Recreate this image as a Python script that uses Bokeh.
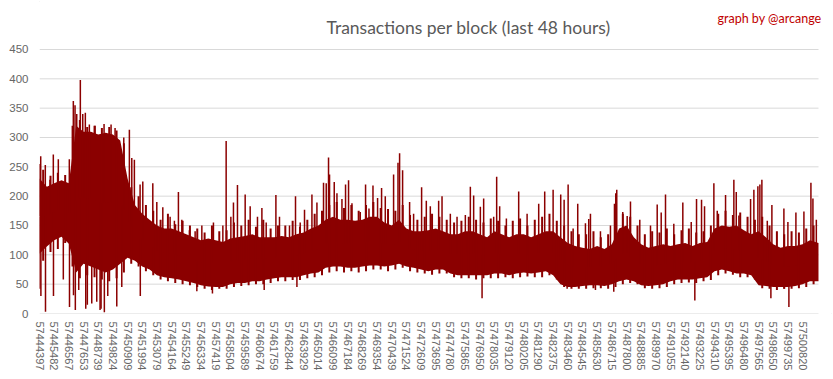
import numpy as np
from bokeh.plotting import figure
from bokeh.models import Range1d, FixedTicker, NumeralTickFormatter, Label
from bokeh.embed import file_html
from bokeh.resources import INLINE

# ---------------- data ----------------
first_block = 57444397
last_block = 57501996

tick_blocks = [57444397, 57445482, 57446567, 57447653, 57448739, 57449824, 57450909,
               57451994, 57453079, 57454164, 57455249, 57456334, 57457419, 57458504,
               57459589, 57460674, 57461759, 57462844, 57463929, 57465014, 57466099,
               57467184, 57468269, 57469354, 57470439, 57471524, 57472609, 57473695,
               57474780, 57475865, 57476950, 57478035, 57479120, 57480205, 57481290,
               57482375, 57483460, 57484545, 57485630, 57486715, 57487800, 57488885,
               57489970, 57491055, 57492140, 57493225, 57494310, 57495395, 57496480,
               57497565, 57498650, 57499735, 57500820]

y_ticks = [0, 50, 100, 150, 200, 250, 300, 350, 400, 450]

# dense band of transactions per block (upper / lower envelope), sampled every half label step
core_blocks = [t + h for t in tick_blocks for h in (0, 542)] + [last_block]
core_top = [230, 216, 222, 227, 222, 320, 310, 310, 305, 308, 305, 295, 230, 185, 170, 160,
            150, 145, 145, 140, 135, 130,
            125, 128, 125, 122, 128, 130, 132, 135, 130, 130, 130, 132, 130, 135, 138, 145,
            150, 160, 165, 160, 160, 158, 160, 165, 165, 155,
            150, 160, 145, 140, 140, 142, 145, 140, 135, 135, 140, 140, 135, 130, 140, 135,
            130, 135, 135, 130, 135, 140, 140, 130, 120, 115,
            112, 110, 115, 110, 118, 145, 150, 130, 118, 112, 115, 118, 115, 118, 120, 115,
            120, 122, 145, 150, 148, 150, 142, 135, 140, 130, 118, 112, 115, 115, 118, 125, 120]
core_bottom = [102, 114, 125, 131, 119, 70, 85, 80, 75, 70, 75, 85, 95, 90, 80, 75,
               65, 62, 60, 58, 55, 52,
               48, 46, 45, 45, 50, 52, 52, 55, 55, 58, 60, 62, 62, 62, 65, 68,
               70, 78, 80, 80, 78, 78, 80, 82, 82, 80,
               82, 85, 80, 78, 75, 72, 75, 75, 68, 65, 65, 65, 65, 65, 68, 68,
               65, 68, 70, 68, 70, 72, 65, 50, 45, 45,
               47, 48, 48, 47, 50, 55, 58, 55, 48, 47, 48, 50, 55, 58, 58, 58,
               60, 62, 72, 75, 72, 68, 68, 65, 48, 47, 45, 45, 45, 47, 50, 55, 55]

# ragged edge of the band, between the samples above
mid_blocks = [t + h for t in tick_blocks for h in (271, 813)]
mid_high = [245, 235, 240, 236, 250, 330, 318, 320, 316, 318, 312, 290, 215, 200, 185, 175,
            160, 170, 152, 158, 150, 145,
            138, 150, 140, 142, 155, 150, 160, 148, 160, 145, 150, 150, 158, 148, 160, 170,
            175, 185, 190, 180, 185, 175, 185, 190, 180, 178,
            175, 185, 168, 160, 165, 170, 165, 160, 155, 158, 165, 160, 155, 162, 158, 150,
            158, 162, 150, 160, 165, 170, 158, 150, 140, 135,
            135, 140, 130, 135, 150, 170, 165, 150, 135, 140, 138, 145, 135, 142, 145, 138,
            140, 150, 170, 175, 168, 172, 165, 160, 165, 150, 140, 135, 140, 138, 145, 150]
mid_low = [90, 105, 110, 120, 80, 60, 65, 62, 58, 55, 60, 70, 85, 80, 72, 65,
           58, 55, 52, 50, 48, 45,
           42, 40, 42, 42, 45, 47, 48, 50, 50, 52, 55, 55, 57, 57, 60, 62,
           65, 70, 72, 70, 72, 70, 72, 75, 75, 72,
           75, 78, 72, 70, 68, 66, 68, 68, 62, 60, 60, 58, 60, 60, 60, 62,
           60, 62, 63, 62, 62, 65, 58, 45, 42, 42,
           42, 43, 43, 42, 45, 50, 52, 50, 43, 42, 43, 45, 50, 52, 53, 52,
           55, 57, 65, 68, 66, 62, 62, 58, 43, 42, 40, 42, 42, 43, 45, 50]

# isolated high blocks
peak_blocks = [57444397, 57444486, 57444826, 57445174, 57445418, 57445788, 57446602, 57446824,
               57446898, 57447024, 57447150, 57447416, 57447594, 57447786, 57448082, 57448504,
               57449170, 57449688, 57449984, 57450628, 57451042, 57451220, 57451412, 57451834,
               57452034, 57452774, 57453070, 57453514, 57454054, 57454372, 57454668, 57454920,
               57455482, 57455904,
               57456400, 57457258, 57457954, 57458198, 57458546, 57458738, 57459034, 57459604,
               57459974, 57460514, 57460840, 57461158, 57461876, 57462142, 57462882, 57463326,
               57463674, 57463992, 57464540, 57464910, 57465398, 57465598, 57465768, 57465842,
               57466190, 57466390, 57466760, 57467026, 57467248, 57467500, 57468114, 57468506,
               57468758, 57469054, 57469394, 57469690, 57469964,
               57470578, 57470904, 57471022, 57471244, 57471762, 57472058, 57472650, 57472998,
               57473294, 57473910, 57474160, 57474774, 57475270, 57475884, 57476254, 57476498,
               57476994, 57477238, 57477978, 57478200, 57478422, 57478918, 57479828, 57480450,
               57481308, 57481752, 57482374, 57482936, 57483188, 57483484, 57483854,
               57484194, 57484764, 57485008, 57485134, 57485874, 57486614, 57486910, 57487006,
               57487080, 57487524, 57487850, 57488094, 57488782, 57489574, 57490070, 57490366,
               57490684, 57491298, 57491964, 57492586, 57492978, 57493348, 57493570, 57494260,
               57494510, 57495124, 57495738, 57495916, 57496110, 57496974, 57497218, 57497514,
               57497662, 57497810, 57498210, 57498550, 57499438, 57499734, 57500326, 57500918,
               57501436, 57501584, 57501836]
peak_values = [255, 268, 253, 228, 271, 263, 263, 320,
               362, 355, 340, 398, 340, 342, 322, 320,
               323, 322, 316, 300, 313, 265, 262, 220,
               225, 222, 190, 181, 165, 158, 207, 160,
               142, 140,
               150, 155, 150, 294, 165, 189, 219, 203,
               183, 165, 180, 155, 202, 165, 150, 200,
               155, 177, 203, 189, 223, 222, 266, 237,
               224, 205, 195, 220, 227, 188, 173, 220,
               179, 218, 197, 214, 200,
               237, 257, 273, 244, 190, 170, 215, 192,
               183, 192, 200, 170, 165, 168, 216, 201,
               182, 196, 165, 233, 183, 162, 208, 170,
               187, 208, 211, 203, 194, 220, 145,
               187, 154, 161, 170, 140, 150, 187, 205,
               211, 173, 166, 191, 160, 150, 186, 172,
               203, 153, 189, 156, 195, 194, 183, 222,
               175, 202, 228, 207, 167, 195, 211, 217,
               220, 228, 158, 185, 179, 156, 172, 174,
               223, 196, 160]

# isolated low blocks
dip_blocks = [57444420, 57444500, 57444840, 57445430, 57446158, 57446615, 57446910, 57447046,
              57447298, 57447816, 57447934, 57448260, 57448630, 57448874, 57448948, 57449192,
              57449444, 57450110, 57450480, 57451850, 57456030, 57457184, 57461010, 57463430,
              57477120, 57483410, 57485504, 57486858, 57492852, 57498476, 57499450, 57499808]
dip_values = [42, 30, 3, 30, 58, 11, 31, 6,
              40, 8, 15, 17, 20, 6, 8, 2,
              30, 12, 45, 30, 38, 34, 40, 45,
              26, 42, 40, 37, 22, 26, 42, 11]

# ---------------- styling ----------------
RED = "#8B0000"
GREY_TXT = "#666666"
GRID = "#D9D9D9"
TICK_FONT = "Liberation Sans"
TITLE_FONT = "Lato"

# plotting frame spans the whole canvas above the axis labels; the value scale ends at the
# 450 gridline and the data ends at the last block, the spare room holds title and credit
BLOCKS_PER_PX = (last_block - first_block + 1) / 779.0
x_lo = first_block - 0.5
x_hi = x_lo + 794 * BLOCKS_PER_PX

p = figure(width=833, height=379, output_backend="svg", toolbar_location=None,
           x_range=Range1d(x_lo, x_hi), y_range=Range1d(0, 533.5),
           min_border_left=39, min_border_right=0, min_border_top=0, min_border_bottom=66)
p.outline_line_color = None
p.background_fill_color = "white"
p.border_fill_color = "white"
p.styles = {"outline": "1px solid #D9D9D9", "outline-offset": "-2px"}

# horizontal gridlines (the 0 line doubles as the category axis line)
p.segment(x0=[x_lo] * len(y_ticks), y0=y_ticks, x1=[last_block + 0.5] * len(y_ticks),
          y1=y_ticks, line_color=GRID, line_width=1)

core_mid = (np.array(core_top) + np.array(core_bottom)) / 2.0
peak_base = np.interp(peak_blocks, core_blocks, core_mid)
dip_base = np.interp(dip_blocks, core_blocks, core_mid)

p.varea(x=core_blocks, y1=core_bottom, y2=core_top, fill_color=RED)
p.segment(x0=mid_blocks, y0=mid_low, x1=mid_blocks, y1=mid_high,
          line_color=RED, line_width=2)
p.segment(x0=peak_blocks, y0=peak_base, x1=peak_blocks, y1=peak_values,
          line_color=RED, line_width=1.5)
p.segment(x0=dip_blocks, y0=dip_base, x1=dip_blocks, y1=dip_values,
          line_color=RED, line_width=1.5)

# axes
p.xaxis.ticker = FixedTicker(ticks=tick_blocks)
p.xaxis.formatter = NumeralTickFormatter(format="0")
p.xaxis.major_label_orientation = "vertical"
p.xaxis.major_label_standoff = 8
p.xaxis.axis_line_color = None
p.xaxis.major_tick_line_color = None
p.xaxis.minor_tick_line_color = None
p.xaxis.major_tick_out = 0
p.xaxis.major_tick_in = 0
p.xaxis.minor_tick_out = 0
p.xaxis.major_label_text_color = GREY_TXT
p.xaxis.major_label_text_font = TICK_FONT
p.xaxis.major_label_text_font_size = "11px"

p.yaxis.ticker = FixedTicker(ticks=y_ticks)
p.yaxis.axis_line_color = None
p.yaxis.major_tick_line_color = None
p.yaxis.minor_tick_line_color = None
p.yaxis.major_tick_out = 0
p.yaxis.major_tick_in = 0
p.yaxis.minor_tick_out = 0
p.yaxis.major_label_standoff = 11
p.yaxis.major_label_text_color = GREY_TXT
p.yaxis.major_label_text_font = TICK_FONT
p.yaxis.major_label_text_font_size = "11.5px"

p.xgrid.grid_line_color = None
p.ygrid.grid_line_color = None

# title and credit, placed in data units above the 450 gridline
title = Label(x=57465617, y=487.5, x_units="data", y_units="data",
              text="Transactions per block (last 48 hours)",
              text_font=TITLE_FONT, text_font_size="17.5px", text_color="#595959",
              text_baseline="alphabetic", text_align="left")
credit = Label(x=57494529, y=502.8, x_units="data", y_units="data",
               text="graph by @arcange",
               text_font=TITLE_FONT, text_font_size="12.5px", text_color="#C00000",
               text_baseline="alphabetic", text_align="left")
p.add_layout(title)
p.add_layout(credit)

open("out.html", "w").write(file_html(p, INLINE))
